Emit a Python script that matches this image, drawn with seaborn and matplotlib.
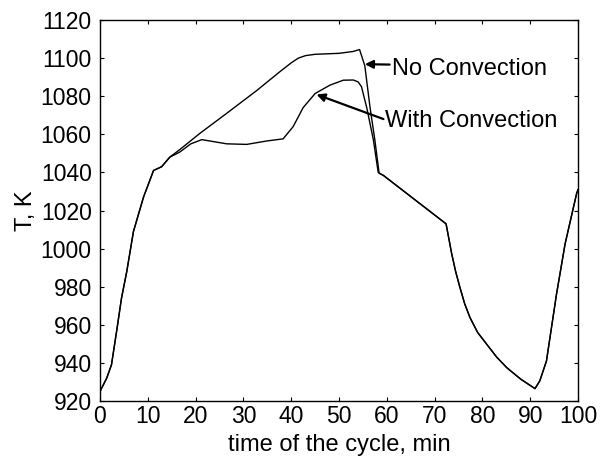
import numpy as np
import pandas as pd
import matplotlib
matplotlib.use("Agg")
import matplotlib.pyplot as plt
import seaborn as sns

# ---- data ----
# shared heating segment (both curves coincide)
t_start = [0, 0.4, 1.4, 2.4, 3.5, 4.5, 5.6, 7.0, 9.1, 11.2, 12.9, 14.6]
T_start = [925, 927, 932, 939, 957, 974, 988, 1009, 1027, 1041, 1043, 1048]

# "No Convection" branch
t_noconv = [16.7, 20.9, 26.5, 32.8, 37.7, 40.0, 41.5, 43.0, 45.0, 50.0, 53.0, 54.3,
            55.4, 56.5, 57.5, 58.4]
T_noconv = [1052, 1060.5, 1071, 1083, 1093, 1097.5, 1100, 1101.3, 1102, 1102.5, 1103.5, 1104.5,
            1096, 1074, 1057, 1039.5]

# "With Convection" branch
t_conv = [16.7, 19.0, 21.3, 26.5, 30.7, 34.9, 38.3, 40.4, 42.5, 45.0, 48.1,
          50.9, 53.0, 54.0, 54.7, 55.8, 57.2, 58.2]
T_conv = [1050.7, 1055, 1057.2, 1055, 1054.7, 1056.5, 1057.6, 1064, 1074, 1081.4, 1085.8,
          1088.4, 1088.5, 1087.5, 1085, 1074, 1057, 1040]

# shared cooling / reheating segment
t_end = [59.3, 72.4, 73.6, 74.4, 75.3, 76.3, 77.4, 79.0, 80.9, 83.0, 85.1, 88.0, 91.0,
         92.0, 93.4, 95.5, 97.3, 99.7, 100]
T_end = [1038.4, 1013, 997, 988, 979.6, 971, 963.8, 956, 949.8, 943, 937.5, 931.5, 926.5,
         930.5, 941, 976, 1002.5, 1028.8, 1031]

x_ticks = list(range(0, 101, 10))
y_ticks = list(range(920, 1121, 20))

labels = ["No Convection", "With Convection"]
label_pos = [(61.0, 1094.5), (59.6, 1067.0)]
arrow_heads = [(55.4, 1096.8), (45.3, 1080.9)]
arrow_tails = [(60.6, 1096.6), (59.3, 1068.0)]

# ---- build frames ----
df_no = pd.DataFrame({"t": t_start + t_noconv + t_end,
                      "T": T_start + T_noconv + T_end})
df_wc = pd.DataFrame({"t": t_start + t_conv + t_end,
                      "T": T_start + T_conv + T_end})

sns.set_style("ticks")
plt.rcParams["font.family"] = ["Liberation Sans", "DejaVu Sans"]
plt.rcParams["text.color"] = "black"
plt.rcParams["axes.labelcolor"] = "black"

fig = plt.figure(figsize=(6.06, 4.61), dpi=100)
ax = fig.add_axes([100 / 606, 1 - 401 / 461, 478 / 606, 381 / 461])

sns.lineplot(data=df_no, x="t", y="T", ax=ax, color="black", lw=1.0,
             sort=False, estimator=None)
sns.lineplot(data=df_wc, x="t", y="T", ax=ax, color="black", lw=1.0,
             sort=False, estimator=None)

ax.set_xlim(0, 100)
ax.set_ylim(920, 1120)
ax.set_xticks(x_ticks)
ax.set_yticks(y_ticks)
ax.tick_params(direction="in", length=3, width=0.8, top=True, right=True,
               labelsize=16.5, colors="black")
ax.tick_params(axis="x", pad=3)
ax.tick_params(axis="y", pad=6)
for s in ax.spines.values():
    s.set_visible(True)
    s.set_linewidth(1.0)
    s.set_color("black")

ax.set_xlabel("time of the cycle, min", fontsize=17, labelpad=4, color="black")
ax.set_ylabel("T, K", fontsize=17, labelpad=3, color="black")

for lab, pos, head, tail in zip(labels, label_pos, arrow_heads, arrow_tails):
    ax.text(pos[0], pos[1], lab, fontsize=17, ha="left", va="center", color="black")
    ax.annotate("", xy=head, xytext=tail,
                arrowprops=dict(arrowstyle="-|>", color="black", lw=1.6,
                                mutation_scale=12, shrinkA=0, shrinkB=0))

fig.savefig("out.png", dpi=100)
